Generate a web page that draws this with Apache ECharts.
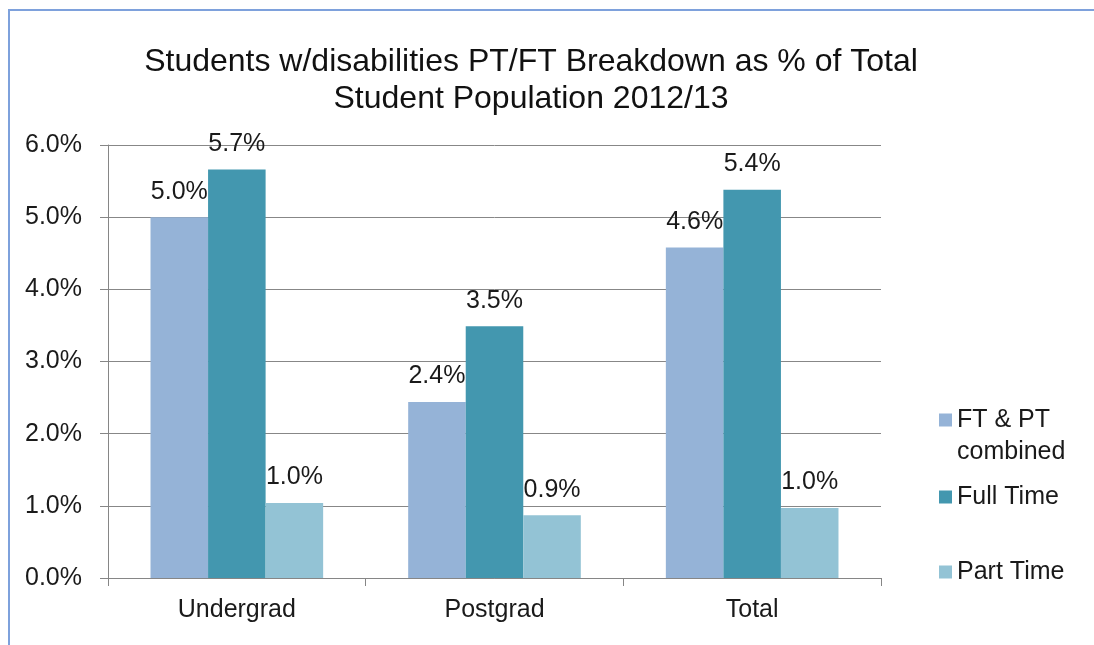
<!DOCTYPE html>
<html>
<head>
<meta charset="utf-8">
<script src="https://cdn.jsdelivr.net/npm/echarts@6/dist/echarts.min.js"></script>
<style>
html,body{margin:0;padding:0;background:#fff;}
#chart{width:1094px;height:645px;}
</style>
</head>
<body>
<div id="chart"></div>
<script>
var titleLines = ['Students w/disabilities PT/FT Breakdown as % of Total', 'Student Population 2012/13'];
var categories = ['Undergrad', 'Postgrad', 'Total'];
var seriesNames = ['FT & PT combined', 'Full Time', 'Part Time'];
var combinedValues = [5.0, 2.44, 4.58];
var fullTimeValues = [5.66, 3.49, 5.38];
var partTimeValues = [1.04, 0.87, 0.97];
var yTicks = [0, 1, 2, 3, 4, 5, 6];
var colors = ['#95B3D7', '#4397AF', '#93C3D5'];

var FONT = '"Liberation Sans", Arial, sans-serif';
var chart = echarts.init(document.getElementById('chart'), null, {renderer: 'canvas'});

function mkSeries(name, data, color) {
  return {
    name: name, type: 'bar', data: data,
    barGap: '0%', barCategoryGap: '33%',
    itemStyle: {color: color},
    label: {
      show: true, position: 'top', distance: 13,
      color: '#1a1a1a', fontFamily: FONT, fontSize: 25,
      formatter: function (p) { return p.value.toFixed(1) + '%'; }
    },
    emphasis: {disabled: true}
  };
}

function mkLegend(name, top) {
  return {
    data: [name], left: 939, top: top, orient: 'vertical',
    itemWidth: 13, itemHeight: 13, itemGap: 5, padding: 0,
    icon: 'rect',
    formatter: function (n) { return n === 'FT & PT combined' ? '\nFT & PT\ncombined' : n; },
    textStyle: {fontFamily: FONT, fontSize: 25, color: '#1a1a1a', lineHeight: 32},
    selectedMode: false
  };
}

chart.setOption({
  animation: false,
  backgroundColor: '#fff',
  color: colors,
  graphic: [
    {type: 'rect', shape: {x: 9, y: 10, width: 1200, height: 800},
     style: {fill: null, stroke: '#7EA1DC', lineWidth: 2}, silent: true, z: -10},
    {type: 'text', x: 531, y: 44, silent: true,
     style: {text: titleLines.join('\n'), textAlign: 'center', textVerticalAlign: 'top',
             font: '32px "Liberation Sans", Arial, sans-serif', lineHeight: 37, fill: '#111'}}
  ],
  legend: [
    mkLegend(seriesNames[0], 372),
    mkLegend(seriesNames[1], 481),
    mkLegend(seriesNames[2], 556)
  ],
  grid: {left: 108, right: 213, top: 145, bottom: 67, containLabel: false},
  xAxis: {
    type: 'category', data: categories, boundaryGap: true,
    axisLine: {show: true, lineStyle: {color: '#868686', width: 1}},
    axisTick: {show: true, length: 8, alignWithLabel: false, lineStyle: {color: '#868686'}},
    axisLabel: {fontFamily: FONT, fontSize: 25, color: '#1a1a1a', margin: 20},
    splitLine: {show: false}
  },
  yAxis: {
    type: 'value', min: yTicks[0], max: yTicks[yTicks.length - 1], interval: 1,
    axisLine: {show: true, lineStyle: {color: '#868686', width: 1}},
    axisTick: {show: true, length: 8, inside: false, lineStyle: {color: '#868686'}},
    axisLabel: {fontFamily: FONT, fontSize: 25, color: '#1a1a1a', margin: 26,
                formatter: function (v) { return v.toFixed(1) + '%'; }},
    splitLine: {show: true, lineStyle: {color: '#878787', width: 1}}
  },
  series: [
    mkSeries(seriesNames[0], combinedValues, colors[0]),
    mkSeries(seriesNames[1], fullTimeValues, colors[1]),
    mkSeries(seriesNames[2], partTimeValues, colors[2])
  ]
});
</script>
</body>
</html>
